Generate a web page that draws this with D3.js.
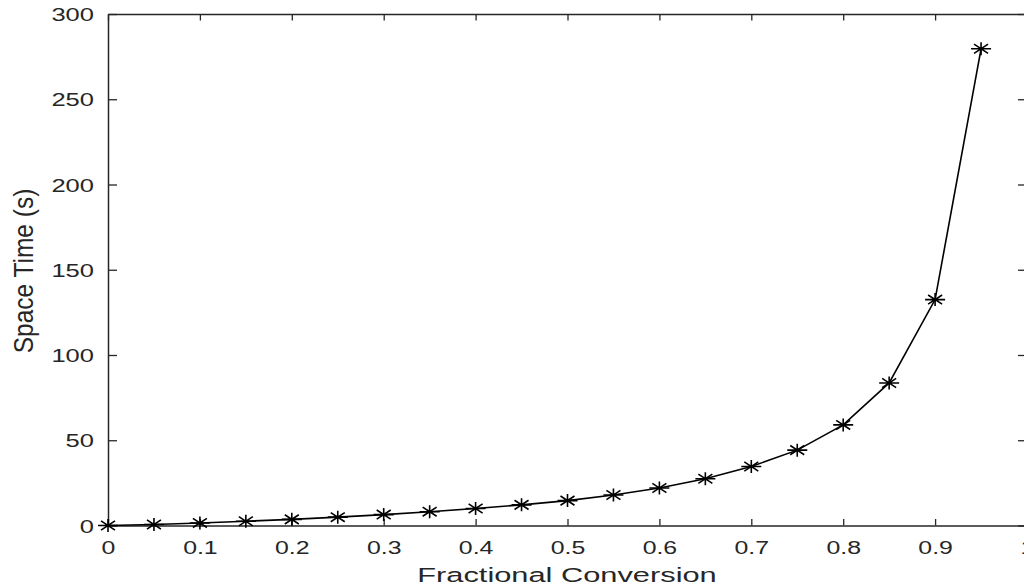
<!DOCTYPE html>
<html>
<head>
<meta charset="utf-8">
<script src="https://cdn.jsdelivr.net/npm/d3@7"></script>
<style>
  html, body { margin: 0; padding: 0; background: #fff; }
  svg { display: block; font-family: "Liberation Sans", Arial, sans-serif; }
</style>
</head>
<body>
<svg id="chart" width="1024" height="587"></svg>
<script>
// values
const conversion = [0, 0.05, 0.1, 0.15, 0.2, 0.25, 0.3, 0.35, 0.4, 0.45,
                    0.5, 0.55, 0.6, 0.65, 0.7, 0.75, 0.8, 0.85, 0.9, 0.95];
const spaceTime = [0, 0.6, 1.5, 2.5, 3.6, 4.9, 6.4, 8.1, 10, 12.1,
                   14.6, 17.9, 22, 27.4, 34.6, 44.2, 59, 83.6, 132.5, 279.6];
const xTicks = [0, 0.1, 0.2, 0.3, 0.4, 0.5, 0.6, 0.7, 0.8, 0.9, 1];
const xTickLabels = ['0', '0.1', '0.2', '0.3', '0.4', '0.5', '0.6', '0.7', '0.8', '0.9', '1'];
const yTicks = [0, 50, 100, 150, 200, 250, 300];
const yTickLabels = ['0', '50', '100', '150', '200', '250', '300'];

const plotLeft = 108, plotRight = 1027, plotTop = 14, plotBottom = 525.5;
const stretch = 1.38;   // the picture is widened horizontally
const axisColor = '#262626';

const svg = d3.select('#chart');
const x = d3.scaleLinear().domain([0, 1]).range([plotLeft, plotRight]);
const y = d3.scaleLinear().domain([0, 300]).range([plotBottom, plotTop]);

function styleAxis(g) {
    g.select('.domain').attr('stroke', axisColor).attr('stroke-width', 1.5);
    g.selectAll('.tick line').attr('stroke', axisColor).attr('stroke-width', 1.3);
}

// bottom axis, ticks pointing inward
svg.append('g')
    .attr('transform', `translate(0,${plotBottom})`)
    .call(d3.axisBottom(x).tickValues(xTicks).tickSizeInner(-6.5).tickSizeOuter(0)
        .tickFormat((d, i) => xTickLabels[i]))
    .call(styleAxis)
    .call(g => g.selectAll('.tick text')
        .attr('y', 28.5).attr('dy', null)
        .attr('font-size', 18).attr('fill', axisColor)
        .attr('transform', `scale(${stretch},1)`));

// top axis, ticks only
svg.append('g')
    .attr('transform', `translate(0,${plotTop})`)
    .call(d3.axisTop(x).tickValues(xTicks).tickSizeInner(-6.5).tickSizeOuter(0).tickFormat(''))
    .call(styleAxis);

// left axis
svg.append('g')
    .attr('transform', `translate(${plotLeft},0)`)
    .call(d3.axisLeft(y).tickValues(yTicks).tickSizeInner(-9).tickSizeOuter(0)
        .tickFormat((d, i) => yTickLabels[i]))
    .call(styleAxis)
    .call(g => g.selectAll('.tick text')
        .attr('x', -14 / stretch).attr('dy', '0.36em')
        .attr('font-size', 18.5).attr('fill', axisColor)
        .attr('transform', `scale(${stretch},1)`));

// right axis, ticks only
svg.append('g')
    .attr('transform', `translate(${plotRight},0)`)
    .call(d3.axisRight(y).tickValues(yTicks).tickSizeInner(-9).tickSizeOuter(0).tickFormat(''))
    .call(styleAxis);

// axis titles
svg.append('text')
    .attr('transform', `translate(567,581.5) scale(1.58,1)`)
    .attr('text-anchor', 'middle')
    .attr('font-size', 19.5)
    .attr('fill', axisColor)
    .text('Fractional Conversion');

svg.append('text')
    .attr('transform', `translate(33,271) rotate(-90) scale(1,1.12)`)
    .attr('text-anchor', 'middle')
    .attr('font-size', 24.5)
    .attr('fill', axisColor)
    .text('Space Time (s)');

// data line
const pts = conversion.map((c, i) => ({ x: c, y: spaceTime[i] }));
svg.append('path')
    .datum(pts)
    .attr('fill', 'none')
    .attr('stroke', '#000')
    .attr('stroke-width', 1.6)
    .attr('d', d3.line().x(d => x(d.x)).y(d => y(d.y)));

// asterisk markers
const star = 'M-10,0H10M0,-6.5V6.5M-7,-4.6L7,4.6M-7,4.6L7,-4.6';
svg.append('g')
    .selectAll('path')
    .data(pts)
    .join('path')
    .attr('transform', d => `translate(${x(d.x)},${y(d.y)})`)
    .attr('d', star)
    .attr('fill', 'none')
    .attr('stroke', '#000')
    .attr('stroke-width', 1.6);
</script>
</body>
</html>
